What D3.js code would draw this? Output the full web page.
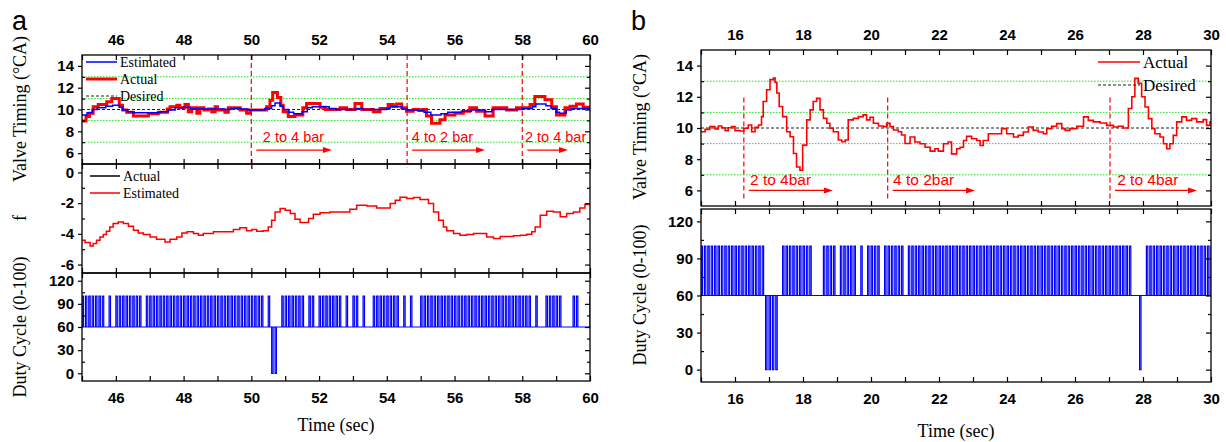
<!DOCTYPE html>
<html>
<head>
<meta charset="utf-8">
<script src="https://cdn.jsdelivr.net/npm/d3@7/dist/d3.min.js"></script>
<style>
  body { margin: 0; background: #fff; }
  .tick text { font-family: "Liberation Sans", Arial, sans-serif; font-weight: bold; font-size: 15px; fill: #000; }
  .tick line { stroke: #000; stroke-width: 1.2; }
  .ttl { font-family: "Liberation Serif", "Times New Roman", serif; font-size: 18px; fill: #000; }
  .leg { font-family: "Liberation Serif", "Times New Roman", serif; font-size: 14px; fill: #000; }
  .leg-b { font-family: "Liberation Serif", "Times New Roman", serif; font-size: 17px; fill: #000; }
  .note { font-family: "Liberation Sans", Arial, sans-serif; font-size: 14.5px; fill: #ff0000; }
  .note-b { font-family: "Liberation Sans", Arial, sans-serif; font-size: 15.5px; fill: #ff0000; }
  .panel-id { font-family: "Liberation Sans", Arial, sans-serif; font-size: 27px; fill: #000; }
</style>
</head>
<body>
<svg id="fig" width="1226" height="442"></svg>
<script>

/*** DATA ***/

const desired = 10;
const gridLevels = [7, 9, 11, 13];

const xLabelsA = [46, 48, 50, 52, 54, 56, 58, 60];
const xLabelsB = [16, 18, 20, 22, 24, 26, 28, 30];
const vtMajor = [6, 8, 10, 12, 14], vtMinor = [7, 9, 11, 13];
const fMajor = [0, -2, -4, -6], fMinor = [-1, -3, -5];
const dcMajor = [0, 30, 60, 90, 120], dcMinor = [15, 45, 75, 105];

// panel a: valve timing, [time (s), deg CA]
const actualA = [[45.0, 8.95], [45.12, 9.35], [45.22, 9.65], [45.33, 10.25], [45.48, 10.45], [45.73, 10.7], [45.88, 11.0],
  [46.1, 10.4], [46.2, 9.95], [46.32, 9.75], [46.52, 9.4], [46.96, 9.6], [47.25, 9.75], [47.52, 10.05], [47.6, 10.25],
  [47.8, 10.4], [47.89, 10.15], [48.04, 10.45], [48.14, 9.8], [48.24, 10.15], [48.39, 9.65], [48.48, 10.15], [48.6, 9.95],
  [48.73, 10.05], [48.83, 9.8], [48.93, 10.25], [49.0, 9.95], [49.22, 9.75], [49.32, 10.15], [49.67, 9.95], [49.86, 9.65],
  [49.96, 9.95], [50.45, 10.25], [50.55, 10.85], [50.63, 11.55], [50.77, 11.1], [50.87, 10.4], [50.94, 9.8], [51.09, 9.35],
  [51.29, 9.5], [51.52, 10.15], [51.63, 10.55], [52.03, 10.2], [52.18, 10.0], [52.62, 10.15], [52.81, 10.0], [53.06, 10.55],
  [53.26, 10.0], [53.6, 9.8], [53.8, 10.1], [54.04, 10.45], [54.19, 10.3], [54.29, 10.5], [54.44, 10.15], [54.58, 9.85],
  [54.78, 10.0], [54.95, 9.9], [55.05, 10.0], [55.17, 9.4], [55.32, 8.75], [55.57, 9.05], [55.72, 9.5], [56.01, 9.65],
  [56.26, 9.85], [56.45, 10.15], [56.65, 9.85], [56.9, 9.4], [57.14, 10.15], [57.54, 9.95], [57.83, 10.15], [58.23, 10.45],
  [58.37, 11.2], [58.67, 10.9], [58.87, 10.25], [59.01, 9.5], [59.26, 10.15], [59.41, 10.3], [59.6, 10.5], [59.8, 10.2],
  [60.0, 10.2]];

const estimatedA = [[45.0, 9.5], [45.15, 9.7], [45.3, 10.0], [45.45, 10.15], [45.7, 10.3], [45.9, 10.4], [46.1, 10.2],
  [46.2, 9.95], [46.35, 9.8], [46.5, 9.7], [47.3, 9.8], [47.55, 9.95], [47.75, 10.15], [48.0, 10.2], [48.2, 10.05],
  [49.2, 10.0], [49.4, 10.1], [49.7, 10.05], [49.9, 9.95], [50.4, 10.1], [50.6, 10.35], [50.7, 10.6], [50.85, 10.3],
  [50.95, 10.0], [51.1, 9.75], [51.25, 9.6], [51.5, 9.8], [51.65, 10.15], [51.8, 10.25], [52.3, 10.1], [52.5, 10.0],
  [53.1, 10.1], [53.3, 10.0], [54.0, 10.1], [54.1, 10.25], [54.45, 10.05], [54.6, 9.95], [54.9, 9.9], [55.1, 9.75],
  [55.3, 9.5], [55.6, 9.6], [55.8, 9.75], [56.2, 9.85], [56.5, 9.95], [56.9, 9.8], [57.1, 10.0], [58.0, 10.1],
  [58.3, 10.25], [58.4, 10.5], [58.7, 10.35], [58.85, 10.1], [59.0, 9.75], [59.1, 9.65], [59.3, 9.95], [59.45, 10.1],
  [60.0, 10.1]];

// panel a: f (estimated)
const fEstA = [[45.0, -4.42], [45.09, -4.57], [45.24, -4.79], [45.33, -4.63], [45.43, -4.42], [45.53, -4.2], [45.63, -4.05],
  [45.72, -3.83], [45.82, -3.55], [45.92, -3.33], [46.07, -3.22], [46.22, -3.33], [46.37, -3.5], [46.52, -3.76],
  [46.66, -3.94], [46.81, -4.05], [47.01, -4.2], [47.2, -4.35], [47.45, -4.53], [47.6, -4.35], [47.8, -4.2], [47.95, -3.94],
  [48.1, -3.87], [48.29, -3.98], [48.44, -4.09], [48.58, -3.98], [48.88, -3.87], [49.17, -3.87], [49.47, -3.72],
  [49.66, -3.61], [49.86, -3.79], [50.01, -3.72], [50.16, -3.83], [50.35, -3.79], [50.5, -3.55], [50.6, -3.11],
  [50.7, -2.57], [50.85, -2.35], [51.0, -2.46], [51.15, -2.68], [51.29, -3.05], [51.44, -3.26], [51.59, -3.26],
  [51.69, -3.0], [51.83, -2.72], [52.03, -2.63], [52.32, -2.57], [52.72, -2.57], [52.91, -2.39], [53.11, -2.13],
  [53.41, -2.18], [53.7, -2.31], [53.95, -2.31], [54.1, -2.02], [54.25, -1.81], [54.39, -1.61], [54.59, -1.7],
  [54.79, -1.63], [54.98, -1.76], [55.13, -1.76], [55.23, -2.02], [55.38, -2.57], [55.53, -3.11], [55.67, -3.55],
  [55.77, -3.79], [55.97, -3.98], [56.16, -4.09], [56.36, -4.05], [56.56, -3.98], [56.75, -3.98], [56.95, -4.2],
  [57.15, -4.31], [57.35, -4.18], [57.74, -4.13], [57.94, -4.09], [58.13, -4.02], [58.28, -3.87], [58.38, -3.55],
  [58.53, -2.79], [58.72, -2.52], [58.92, -2.57], [59.12, -2.89], [59.31, -2.68], [59.51, -2.57], [59.7, -2.31],
  [59.85, -2.09], [60.0, -2.09]];

// panel a: duty cycle, one sample every 0.1 s from 45.0 s (one row per second)
const dutyStartA = 45.0, dutyStepA = 0.1;
const dutyA = [
  100, 100, 100, 100, 100, 100, 100, 60, 100, 60,
  100, 100, 100, 100, 100, 100, 100, 100, 60, 100,
  100, 100, 100, 100, 100, 100, 100, 100, 100, 100,
  100, 100, 100, 100, 100, 100, 100, 100, 100, 100,
  100, 100, 100, 100, 100, 100, 100, 100, 100, 100,
  100, 100, 100, 100, 60, 100, 0, 0, 60, 100,
  100, 100, 100, 100, 100, 100, 60, 100, 100, 60,
  100, 100, 100, 100, 100, 100, 100, 60, 100, 60,
  100, 100, 60, 100, 60, 60, 100, 100, 100, 100,
  100, 100, 100, 100, 60, 100, 60, 100, 60, 60,
  100, 100, 100, 100, 100, 100, 100, 100, 100, 100,
  100, 100, 100, 100, 100, 100, 100, 100, 100, 100,
  100, 100, 100, 100, 100, 100, 100, 100, 100, 100,
  100, 100, 100, 60, 100, 60, 60, 100, 100, 100,
  100, 100, 60, 60, 60, 100, 100, 60, 60, 60,
  100];

// panel b: valve timing (actual)
const actualB = [[15.0, 9.76], [15.12, 9.91], [15.26, 10.09], [15.41, 9.94], [15.51, 10.13], [15.61, 10.02], [15.71, 9.83],
  [15.8, 10.02], [15.9, 10.09], [16.0, 9.83], [16.15, 9.81], [16.26, 9.98], [16.39, 10.19], [16.49, 9.76], [16.59, 10.04],
  [16.69, 10.19], [16.78, 10.73], [16.83, 11.7], [16.93, 12.45], [17.03, 13.1], [17.13, 13.2], [17.18, 12.92],
  [17.23, 12.24], [17.3, 11.38], [17.4, 10.73], [17.52, 9.76], [17.62, 9.44], [17.72, 8.37], [17.81, 7.5], [17.91, 7.29],
  [17.99, 8.9], [18.11, 10.52], [18.21, 11.16], [18.3, 11.7], [18.4, 11.9], [18.5, 11.16], [18.6, 10.62], [18.7, 10.3],
  [18.79, 9.98], [18.89, 9.76], [19.04, 9.23], [19.14, 9.12], [19.24, 9.23], [19.33, 10.52], [19.48, 10.62],
  [19.63, 10.73], [19.77, 10.84], [19.87, 10.52], [19.97, 10.69], [20.07, 10.3], [20.22, 10.13], [20.36, 10.09],
  [20.46, 10.3], [20.56, 10.09], [20.66, 9.87], [20.8, 9.76], [20.9, 9.55], [21.0, 9.01], [21.15, 9.42], [21.29, 9.1],
  [21.44, 8.99], [21.59, 8.77], [21.74, 8.52], [21.88, 8.67], [21.98, 8.52], [22.13, 8.99], [22.27, 9.1], [22.37, 8.34],
  [22.52, 8.67], [22.62, 8.77], [22.72, 9.2], [22.81, 9.46], [22.96, 9.31], [23.11, 9.2], [23.21, 8.88], [23.3, 9.2],
  [23.45, 9.63], [23.84, 9.96], [23.99, 9.63], [24.19, 9.42], [24.33, 9.53], [24.48, 9.74], [24.63, 10.06], [24.77, 9.85],
  [24.92, 9.74], [25.07, 9.63], [25.17, 9.96], [25.31, 10.11], [25.46, 10.28], [25.61, 9.96], [25.71, 9.85],
  [25.85, 9.96], [26.05, 10.11], [26.25, 10.71], [26.39, 10.49], [26.54, 10.39], [26.74, 10.32], [26.93, 10.17],
  [27.13, 10.06], [27.27, 10.11], [27.42, 10.0], [27.57, 11.25], [27.67, 12.0], [27.76, 13.18], [27.86, 12.86],
  [27.96, 12.0], [28.06, 11.35], [28.16, 10.6], [28.26, 9.96], [28.35, 9.63], [28.5, 9.42], [28.6, 8.99], [28.7, 8.67],
  [28.79, 8.99], [28.89, 9.53], [28.99, 10.39], [29.14, 10.71], [29.28, 10.49], [29.43, 10.6], [29.58, 10.39],
  [29.77, 10.54], [29.87, 10.17], [29.97, 10.39], [30.0, 10.39]];

// panel b: duty cycle, one sample every 0.1 s from 15.0 s
const dutyStartB = 15.0, dutyStepB = 0.1;
const dutyB = [
  100, 100, 100, 100, 100, 100, 100, 100, 100, 100,
  100, 100, 100, 100, 100, 100, 100, 100, 100, 0,
  0, 0, 0, 60, 100, 100, 100, 100, 100, 100,
  100, 100, 100, 60, 60, 60, 100, 100, 100, 100,
  60, 100, 100, 100, 100, 100, 60, 100, 60, 100,
  100, 100, 100, 60, 100, 100, 100, 100, 100, 100,
  60, 100, 100, 100, 100, 100, 100, 100, 100, 100,
  100, 100, 100, 100, 100, 100, 100, 100, 100, 100,
  100, 100, 100, 100, 100, 100, 100, 100, 100, 100,
  100, 100, 100, 100, 100, 100, 100, 100, 100, 100,
  100, 100, 100, 100, 100, 100, 100, 100, 100, 100,
  100, 100, 100, 100, 100, 100, 100, 100, 100, 100,
  100, 100, 100, 100, 100, 100, 100, 60, 60, 0,
  60, 100, 100, 100, 100, 100, 100, 100, 100, 100,
  100, 100, 100, 100, 100, 100, 100, 100, 100, 100,
  100];

// pressure switch annotations
const switchA = [50.0, 54.6, 58.0], noteA = ["2 to 4 bar", "4 to 2 bar", "2 to 4 bar"];
const noteStartA = [50.34, 54.74, 58.08], arrowEndA = [52.38, 56.9, 59.35];
const switchB = [16.26, 20.49, 27.03], noteB = ["2 to 4bar", "4 to 2bar", "2 to 4bar"];
const noteStartB = [16.44, 20.65, 27.24], arrowEndB = [18.88, 23.06, 29.59];

/*** SCALES ***/

const svg = d3.select("#fig");

const xA = d3.scaleLinear().domain([45, 60]).range([82, 590]);
const yA1 = d3.scaleLinear().domain([5, 15]).range([164, 55]);
const yA2 = d3.scaleLinear().domain([-6.55, 0.55]).range([273, 164]);
const yA3 = d3.scaleLinear().domain([-10, 130]).range([381, 273]);

const xB = d3.scaleLinear().domain([15, 30]).range([701, 1211]);
const yB1 = d3.scaleLinear().domain([5, 15]).range([206, 50]);
const yB2 = d3.scaleLinear().domain([-10, 130]).range([382, 209]);

const RED = "#ff0000", BLUE = "#0000ff", GREEN = "#22e022";

/*** HELPERS ***/

let clipId = 0;
function clipFor(x, y) {
    let id = "clip" + (clipId++);
    svg.append("clipPath").attr("id", id).append("rect")
        .attr("x", x.range()[0]).attr("y", y.range()[1])
        .attr("width", x.range()[1] - x.range()[0])
        .attr("height", y.range()[0] - y.range()[1]);
    return `url(#${id})`;
}

function axis(ax, tx, ty) {
    let a = svg.append("g").attr("transform", `translate(${tx},${ty})`).call(ax);
    a.attr("font-size", null).attr("font-family", null);
    a.select(".domain").remove();
    return a;
}

function frame(x, y, o) {
    let [x0, x1] = x.range(), yb = y.range()[0], yt = y.range()[1];
    let secs = d3.range(Math.ceil(x.domain()[0]), x.domain()[1] + 0.01, 1);
    let fmt = (d) => String(d);

    svg.append("rect")
        .attr("x", x0).attr("y", yt).attr("width", x1 - x0).attr("height", yb - yt)
        .attr("fill", "none").attr("stroke", "#000").attr("stroke-width", 1.3);

    axis(d3.axisLeft(y).tickValues(o.major).tickSize(4).tickPadding(4).tickFormat(fmt), x0, 0);
    axis(d3.axisRight(y).tickValues(o.minor).tickSize(3).tickFormat(""), x0, 0);
    axis(d3.axisLeft(y).tickValues(o.major).tickSize(5).tickFormat(""), x1, 0);
    axis(d3.axisLeft(y).tickValues(o.minor).tickSize(3).tickFormat(""), x1, 0);
    axis(d3.axisBottom(x).tickValues(secs).tickSize(5).tickFormat(""), 0, yt);
    axis(d3.axisTop(x).tickValues(secs).tickSize(5).tickFormat(""), 0, yb);

    if (o.top) axis(d3.axisTop(x).tickValues(o.top).tickSize(0).tickPadding(10).tickFormat(fmt), 0, yt);
    if (o.bottom) axis(d3.axisBottom(x).tickValues(o.bottom).tickSize(0).tickPadding(11).tickFormat(fmt), 0, yb);
}

function grid(x, y) {
    svg.selectAll(null).data(gridLevels).enter()
        .append("line")
        .attr("x1", x.range()[0]).attr("x2", x.range()[1])
        .attr("y1", (d) => y(d)).attr("y2", (d) => y(d))
        .attr("stroke", GREEN).attr("stroke-width", 1).attr("stroke-dasharray", "1.5,1.5");
    svg.append("line")
        .attr("x1", x.range()[0]).attr("x2", x.range()[1])
        .attr("y1", y(desired)).attr("y2", y(desired))
        .attr("stroke", "#222").attr("stroke-width", 1).attr("stroke-dasharray", "3,2");
}

function stepLine(data, x, y, color, w, clip) {
    svg.append("path")
        .datum(data)
        .attr("clip-path", clip)
        .attr("fill", "none").attr("stroke", color).attr("stroke-width", w)
        .attr("stroke-linejoin", "miter")
        .attr("d", d3.line().x((d) => x(d[0])).y((d) => y(d[1])).curve(d3.curveStepAfter));
}

function duty(vals, t0, dt, x, y, clip) {
    let p = d3.path(), base = y(60), w = 1.4;
    p.moveTo(x.range()[0], base);
    p.lineTo(x.range()[1], base);
    vals.forEach((v, i) => {
        if (v === 60) return;
        let xx = x(t0 + i * dt);
        p.moveTo(xx, base);
        p.lineTo(xx, y(v));
        p.lineTo(xx + w, y(v));
        p.lineTo(xx + w, base);
    });
    svg.append("path")
        .attr("clip-path", clip)
        .attr("fill", "none").attr("stroke", BLUE).attr("stroke-width", 1.2)
        .attr("d", p.toString());
}

function arrow(xs, xe, yy) {
    svg.append("line")
        .attr("x1", xs).attr("x2", xe - 6).attr("y1", yy).attr("y2", yy)
        .attr("stroke", RED).attr("stroke-width", 1.3);
    svg.append("path")
        .attr("d", `M${xe},${yy} L${xe - 9},${yy - 3} L${xe - 9},${yy + 3} Z`)
        .attr("fill", RED);
}

function switches(x, y, times, notes, starts, ends, vTop, vBot, vText, vArrow, cls) {
    times.forEach((t, i) => {
        svg.append("line")
            .attr("x1", x(t)).attr("x2", x(t))
            .attr("y1", y(vTop)).attr("y2", y(vBot))
            .attr("stroke", RED).attr("stroke-width", 1.2).attr("stroke-dasharray", "5,3");
        svg.append("text").attr("class", cls)
            .attr("x", x(starts[i])).attr("y", y(vText))
            .text(notes[i]);
        arrow(x(t) + 5, x(ends[i]), y(vArrow));
    });
}

function yTitle(cx, cy, text) {
    svg.append("text").attr("class", "ttl")
        .attr("transform", `translate(${cx},${cy}) rotate(-90)`)
        .attr("text-anchor", "middle").attr("dy", "0.35em")
        .text(text);
}

function legendRow(x1, x2, y, color, w, dash, label, cls) {
    svg.append("line")
        .attr("x1", x1).attr("x2", x2).attr("y1", y).attr("y2", y)
        .attr("stroke", color).attr("stroke-width", w).attr("stroke-dasharray", dash);
    svg.append("text").attr("class", cls)
        .attr("x", x2 + 3).attr("y", y).attr("dy", "0.33em")
        .text(label);
}

/*** PANEL A ***/

let cA1 = clipFor(xA, yA1), cA2 = clipFor(xA, yA2), cA3 = clipFor(xA, yA3);

grid(xA, yA1);
stepLine(actualA, xA, yA1, RED, 3, cA1);
stepLine(estimatedA, xA, yA1, BLUE, 1.5, cA1);
stepLine(fEstA, xA, yA2, RED, 1.5, cA2);
duty(dutyA, dutyStartA, dutyStepA, xA, yA3, cA3);

switches(xA, yA1, switchA, noteA, noteStartA, arrowEndA, 15, 4.7, 7.0, 6.28, "note");

frame(xA, yA1, {major: vtMajor, minor: vtMinor, top: xLabelsA});
frame(xA, yA2, {major: fMajor, minor: fMinor});
frame(xA, yA3, {major: dcMajor, minor: dcMinor, bottom: xLabelsA});

legendRow(86, 117, 62, BLUE, 1.5, null, "Estimated", "leg");
legendRow(86, 117, 79, RED, 3, null, "Actual", "leg");
legendRow(86, 117, 96, "#222", 1, "3,2", "Desired", "leg");
legendRow(90, 120, 176, "#000", 1.5, null, "Actual", "leg");
legendRow(90, 120, 193, RED, 1.5, null, "Estimated", "leg");

yTitle(20, 109, "Valve Timing (\u00b0CA)");
yTitle(20, 218, "f");
yTitle(20, 327, "Duty Cycle (0-100)");
svg.append("text").attr("class", "ttl").attr("x", 336).attr("y", 431)
    .attr("text-anchor", "middle").text("Time (sec)");
svg.append("text").attr("class", "panel-id").attr("x", 12).attr("y", 30).text("a");

/*** PANEL B ***/

let cB1 = clipFor(xB, yB1), cB2 = clipFor(xB, yB2);

grid(xB, yB1);
stepLine(actualB, xB, yB1, RED, 1.6, cB1);
duty(dutyB, dutyStartB, dutyStepB, xB, yB2, cB2);

switches(xB, yB1, switchB, noteB, noteStartB, arrowEndB, 11.95, 5.35, 6.32, 6.0, "note-b");

frame(xB, yB1, {major: vtMajor, minor: vtMinor, top: xLabelsB});
frame(xB, yB2, {major: dcMajor, minor: dcMinor, bottom: xLabelsB});

legendRow(1098, 1140, 62, RED, 1.6, null, "Actual", "leg-b");
legendRow(1098, 1140, 85, "#222", 1, "3,2", "Desired", "leg-b");

yTitle(640, 127, "Valve Timing (\u00b0CA)");
yTitle(640, 295, "Duty Cycle (0-100)");
svg.append("text").attr("class", "ttl").attr("x", 956).attr("y", 437)
    .attr("text-anchor", "middle").text("Time (sec)");
svg.append("text").attr("class", "panel-id").attr("x", 631).attr("y", 30).text("b");

</script>
</body>
</html>
